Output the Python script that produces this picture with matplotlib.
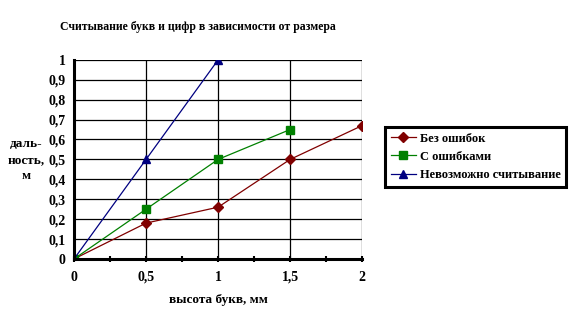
import matplotlib
matplotlib.use("Agg")
import matplotlib.pyplot as plt
from matplotlib.ticker import MultipleLocator, FuncFormatter

x_no_err = [0, 0.5, 1, 1.5, 2]
y_no_err = [0, 0.18, 0.26, 0.5, 0.67]
x_err = [0, 0.5, 1, 1.5]
y_err = [0, 0.25, 0.5, 0.65]
x_fail = [0, 0.5, 1]
y_fail = [0, 0.5, 1.0]

labels = ["Без ошибок", "С ошибками", "Невозможно считывание"]

plt.rcParams['font.family'] = ['Liberation Serif', 'DejaVu Serif']
plt.rcParams['font.weight'] = 'bold'

fig = plt.figure(figsize=(5.74, 3.15), dpi=100)
ax = fig.add_axes([0.129, 0.178, 0.502, 0.632])

ax.plot(x_no_err, y_no_err, color='#800000', marker='D', markersize=5, lw=0.9, label=labels[0])
ax.plot(x_err, y_err, color='#008000', marker='s', markersize=6, lw=0.9, label=labels[1])
ax.plot(x_fail, y_fail, color='#000080', marker='^', markersize=6, lw=0.9, label=labels[2])

ax.set_xlim(0, 2)
ax.set_ylim(0, 1)
ax.xaxis.set_major_locator(MultipleLocator(0.5))
ax.xaxis.set_minor_locator(MultipleLocator(0.25))
ax.yaxis.set_major_locator(MultipleLocator(0.1))
fmt = FuncFormatter(lambda v, p: f"{v:g}".replace('.', ','))
ax.xaxis.set_major_formatter(fmt)
ax.yaxis.set_major_formatter(fmt)

ax.grid(True, which='major', color='black', lw=0.9)
ax.set_axisbelow(True)
for s in ['top', 'right']:
    ax.spines[s].set_visible(False)
ax.spines['left'].set_linewidth(2.2)
ax.spines['bottom'].set_linewidth(2.2)
ax.tick_params(axis='x', which='both', direction='inout', length=5, width=1.5, pad=6, labelsize=10)
ax.tick_params(axis='y', length=0, pad=6, labelsize=10)
for t in ax.get_xticklabels() + ax.get_yticklabels():
    t.set_fontweight('bold')

fig.text(0.345, 0.914, "Считывание букв и цифр в зависимости от размера",
         ha='center', va='center', fontsize=8.5, fontweight='bold')
fig.text(0.38, 0.048, "высота букв, мм", ha='center', va='center', fontsize=9.5, fontweight='bold')
fig.text(0.045, 0.492, "даль-\nность,\nм", ha='center', va='center', fontsize=9.5,
         fontweight='bold', linespacing=1.45)

leg = fig.legend(loc='upper left', bbox_to_anchor=(0.671, 0.597), frameon=True, fancybox=False,
                 framealpha=1, prop={'weight': 'bold', 'size': 9}, handlelength=2.0,
                 borderpad=0.45, labelspacing=0.5, handletextpad=0.3, borderaxespad=0)
leg.get_frame().set_edgecolor('black')
leg.get_frame().set_linewidth(2.2)

fig.savefig("out.png", dpi=100)
